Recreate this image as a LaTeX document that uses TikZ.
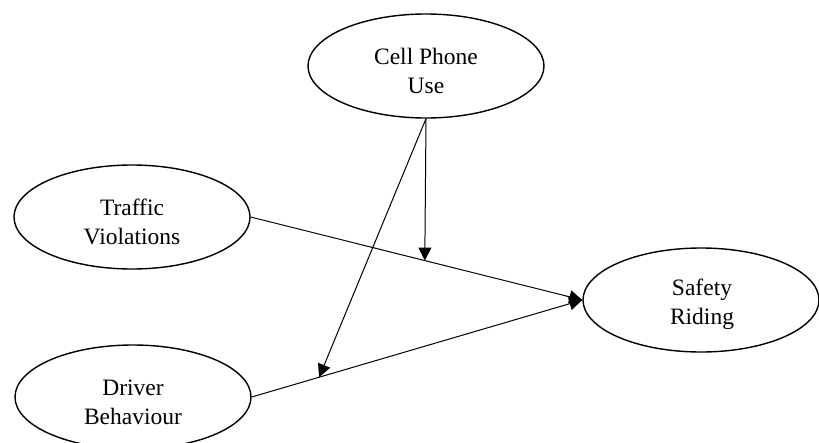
\documentclass[tikz,border=0pt]{standalone}
\usepackage{fontspec}
\setmainfont{Liberation Serif}
\usetikzlibrary{shapes.geometric,arrows.meta}
\tikzset{
  construct/.style={ellipse, draw, line width=1.4pt, minimum width=236pt, minimum height=104pt, inner sep=0pt},
  ctext/.style={align=center, inner sep=0pt, font=\fontsize{23.5}{29}\selectfont},
  link/.style={line width=1pt, -{Triangle[length=13pt,width=13pt]}},
}
\begin{document}
\begin{tikzpicture}[x=1pt,y=-1pt]
\useasboundingbox (0,0) rectangle (819,442);
\node[construct] (cp) at (426,66) {};
\node[ctext] (cpt) at (426,71) {Cell Phone\\Use};
\node[construct] (tv) at (132,217) {};
\node[ctext] (tvt) at (132,222) {Traffic\\Violations};
\node[construct] (sr) at (701,300) {};
\node[ctext] (srt) at (702,304) {Safety\\Riding};
\node[construct] (db) at (133,397) {};
\node[ctext] (dbt) at (133,402) {Driver\\Behaviour};
\path (tv.east) -- (sr.west) coordinate[pos=0.525] (m1);
\path (db.east) -- (sr.west) coordinate[pos=0.204] (m2);
\draw[link] (tv.east) -- (sr.west);
\draw[link] (db.east) -- (sr.west);
\draw[link] (cp.south) -- (m1);
\draw[link] (cp.south) -- (m2);
\end{tikzpicture}
\end{document}
